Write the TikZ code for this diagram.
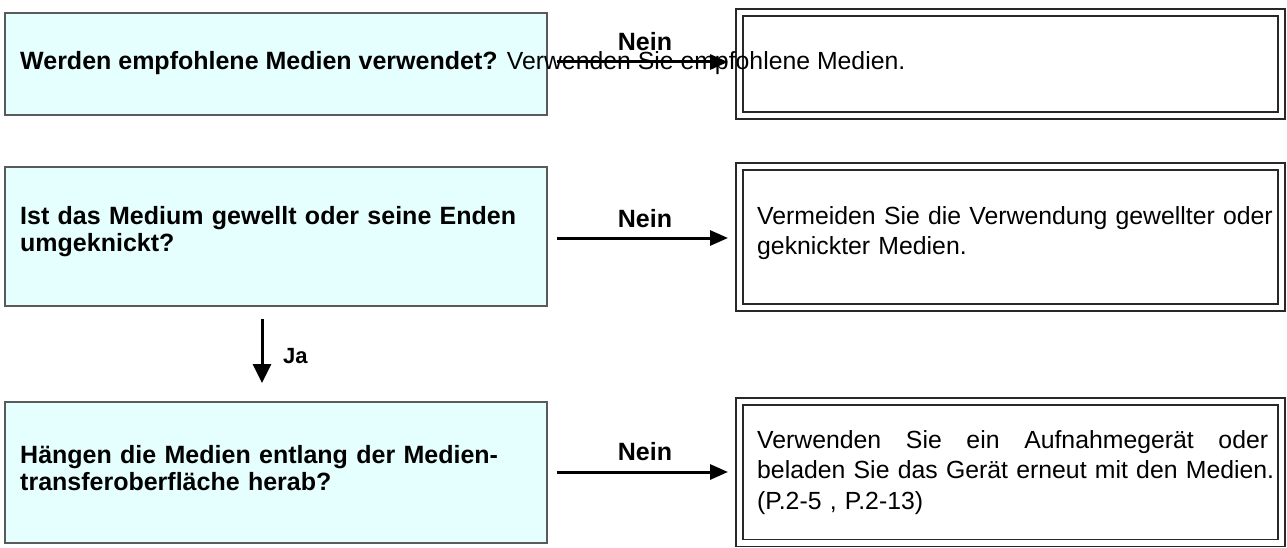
\documentclass[tikz,border=0pt]{standalone}
\usepackage{fontspec}
\setmainfont{Liberation Sans}
\usetikzlibrary{arrows.meta}
\definecolor{qfill}{RGB}{229,255,255}
\definecolor{qline}{RGB}{90,90,90}
\definecolor{aline}{RGB}{40,40,40}
\tikzset{
 qbox/.style={draw=qline, line width=1.2pt, fill=qfill, minimum width=542pt, inner sep=0pt, outer sep=0pt},
 abox/.style={draw=aline, line width=1.6pt, double=white, double distance=5.4pt, minimum width=542pt, inner sep=0pt, outer sep=0pt},
 qtext/.style={anchor=base west, inner sep=0pt, font=\fontsize{25}{27.5}\selectfont\bfseries, align=left},
 atext/.style={anchor=base west, inner sep=0pt, font=\fontsize{24.8}{30.5}\selectfont, align=left, text width=540pt},
 flow/.style={line width=3pt, -{Triangle[length=18pt,width=15pt]}},
 vflow/.style={line width=3pt, -{Triangle[length=19pt,width=18pt]}},
 lab/.style={font=\fontsize{25}{25}\selectfont\bfseries, inner sep=0pt, anchor=base},
}
\begin{document}
\begin{tikzpicture}[x=1pt,y=-1pt]
\useasboundingbox (0,0) rectangle (1287,548);
% question boxes
\node[qbox, minimum height=102pt] (q1) at (276,64) {};
\node[qbox, minimum height=139pt] (q2) at (276,236.5) {};
\node[qbox, minimum height=141pt] (q3) at (276,472.5) {};
% answer boxes
\node[abox, minimum height=103pt] (a1) at (1010.5,64) {};
\node[abox, minimum height=141pt] (a2) at (1010.5,237) {};
\node[abox, minimum height=141.5pt] (a3) at (1010.5,472.25) {};
% texts
\node[qtext] (t1) at (20,70) {Werden empfohlene Medien verwendet? {\mdseries\fontsize{24.8}{27.5}\selectfont Verwenden Sie empfohlene Medien.}};
\node[qtext, text width=540pt] (t2) at (20,224) {Ist das Medium gewellt oder seine Enden\\umgeknickt?};
\node[qtext, text width=540pt] (t3) at (20,463) {Hängen die Medien entlang der Medien-\\transferoberfläche herab?};
\node[atext] (t4) at (757,224) {Vermeiden Sie die Verwendung gewellter oder\\geknickter Medien.};
\node[atext] (t5) at (757,448) {\makebox[511pt][l]{Verwenden\hfill Sie\hfill ein\hfill Aufnahmegerät\hfill oder}\\beladen Sie das Gerät erneut mit den Medien.\\(P.2-5 , P.2-13)};
% connectors
\draw[flow, shorten <=10pt, shorten >=11.5pt] ([yshift=2pt]q1.east) -- ([yshift=2pt]a1.west);
\draw[flow, shorten <=10pt, shorten >=11.5pt] ([yshift=-1.5pt]q2.east) -- ([yshift=-1pt]a2.west);
\draw[flow, shorten <=10pt, shorten >=11.5pt] ([yshift=0.5pt]q3.east) -- ([yshift=0.25pt]a3.west);
\draw[vflow, shorten <=13pt, shorten >=19pt] ([xshift=-14pt]q2.south) -- ([xshift=-14pt]q3.north);
% labels
\node[lab] (n1) at (645,51) {Nein};
\node[lab] (n2) at (645,227) {Nein};
\node[lab] (n3) at (645,460) {Nein};
\node[lab, anchor=base west, font=\fontsize{22}{22}\selectfont\bfseries] (ja) at (283,363) {Ja};
\end{tikzpicture}
\end{document}
